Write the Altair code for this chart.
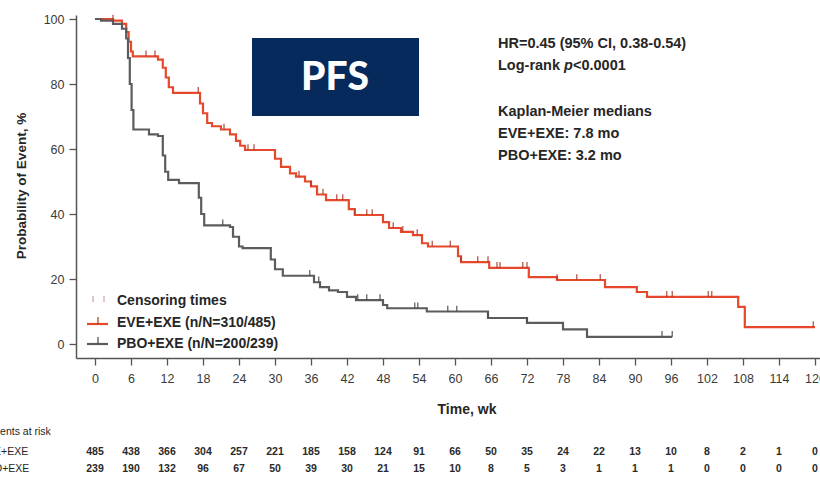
import altair as alt
import pandas as pd

FONT = "'Liberation Sans Narrow', 'Arial Narrow', 'Liberation Sans', Arial, sans-serif"
BOX_FONT = "Lato, 'Open Sans', sans-serif"

# ---------------- data ----------------
eve_t = [0, 3, 4.5, 5.2, 5.6, 6.0, 6.3, 10.5, 11.3, 11.8, 12.3, 13, 17.5, 18, 18.7, 19.5,
         21, 22.5, 23.5, 24.2, 25, 30, 31, 32.5, 33.5, 35, 36, 37, 38.5, 42.3, 43.3, 48,
         49, 51, 53, 54.5, 55.5, 60.5, 61, 65.7, 72.3, 77, 85, 90.3, 92, 107.2, 108.3, 120]
eve_s = [100, 99.5, 98.5, 96, 93, 90, 88.5, 87.5, 85, 82, 79, 77.3, 74, 71, 68, 67,
         66, 64.5, 62.5, 61, 59.7, 57, 54.5, 52.5, 51.5, 50, 48.5, 46, 44.3, 41.5, 39.7, 37.5,
         35.7, 34.5, 33.5, 31, 30, 27, 25.2, 23.4, 20.6, 19.7, 17.5, 16, 14.5, 11.4, 5.2, 5.2]

pbo_t = [0, 1, 3, 4.5, 5.2, 5.5, 5.8, 6.1, 6.4, 9, 10.5, 11.3, 11.7, 12.2, 14, 17.3, 17.7,
         18.2, 22.5, 23, 24, 24.6, 29.3, 30, 31.3, 36.5, 37.5, 39, 40.5, 42, 43.5, 48, 48.7,
         55.3, 65.5, 72, 78, 82, 96.2]
pbo_s = [100, 99.5, 98.5, 97, 94, 88, 80, 72, 66, 64.5, 64, 58, 53, 50.5, 49.5, 45, 40,
         36.5, 36, 33, 30, 29.5, 26, 23, 21, 19, 17.5, 16.5, 16, 14.5, 13.5, 12, 11,
         10, 8, 6.5, 4.5, 2.2, 2.2]

eve_cens = [3, 8.5, 10, 17.2, 21.5, 25.5, 26.5, 34, 36, 38, 40.3, 41.3, 43.3, 45.3, 46.2,
            49.7, 51.3, 53.7, 56.2, 59.2, 61, 63.8, 65.5, 67, 67.5, 71.3, 72, 77, 80.3,
            84.2, 95.3, 96.2, 102.2, 102.8, 119.7]
pbo_cens = [21.3, 35.8, 37.3, 43.8, 45.3, 47.5, 53.3, 53.8, 58.8, 60.3, 65.5, 72, 94.5, 96.2]

risk_times = list(range(0, 121, 6))
eve_risk = [485, 438, 366, 304, 257, 221, 185, 158, 124, 91, 66, 50, 35, 24, 22, 13, 10, 8, 2, 1, 0]
pbo_risk = [239, 190, 132, 96, 67, 50, 39, 30, 21, 15, 10, 8, 5, 3, 1, 1, 1, 0, 0, 0, 0]

x_ticks = list(range(0, 121, 6))
y_ticks = [0, 20, 40, 60, 80, 100]

stats_lines = ["HR=0.45 (95% CI, 0.38-0.54)", "Kaplan-Meier medians",
               "EVE+EXE: 7.8 mo", "PBO+EXE: 3.2 mo"]
legend_labels = ["Censoring times", "EVE+EXE (n/N=310/485)", "PBO+EXE (n/N=200/239)"]

# ---------------- layout constants ----------------
LEFT, TOP = 76, 15
W, H = 744, 343
RED, RED_DARK = "#e6482c", "#a83a28"
GRAY, GRAY_DARK = "#5c5c5c", "#484848"


def step_value(ts, ss, t):
    v = ss[0]
    for ti, si in zip(ts, ss):
        if ti <= t:
            v = si
    return v


eve_df = pd.DataFrame({"t": eve_t, "s": eve_s})
pbo_df = pd.DataFrame({"t": pbo_t, "s": pbo_s})
eve_c = pd.DataFrame({"t": eve_cens, "s": [step_value(eve_t, eve_s, t) for t in eve_cens]})
pbo_c = pd.DataFrame({"t": pbo_cens, "s": [step_value(pbo_t, pbo_s, t) for t in pbo_cens]})
risk_df = pd.DataFrame({"t": risk_times, "eve": eve_risk, "pbo": pbo_risk})

xscale = alt.Scale(domain=[(LEFT - 95) / 6, (LEFT + W - 95) / 6], nice=False, zero=False)
yscale = alt.Scale(domain=[(344 - (TOP + H)) / 3.25, (344 - TOP) / 3.25], nice=False, zero=False)

xaxis = alt.Axis(values=x_ticks, title=None, grid=False, tickSize=7, labelPadding=7,
                 labelFlush=False, labelOverlap=False)
yaxis = alt.Axis(values=y_ticks, title=None, grid=False, tickSize=7, labelPadding=5,
                 labelOverlap=False)

X = alt.X("t:Q", scale=xscale, axis=xaxis)
Y = alt.Y("s:Q", scale=yscale, axis=yaxis)

eve_line = alt.Chart(eve_df).mark_line(interpolate="step-after", strokeWidth=2.2, color=RED).encode(x=X, y=Y)
pbo_line = alt.Chart(pbo_df).mark_line(interpolate="step-after", strokeWidth=2.2, color=GRAY).encode(x=X, y=Y)


def censor(df, color):
    return alt.Chart(df).transform_calculate(s2="datum.s + 1.8").mark_rule(
        color=color, strokeWidth=1.1).encode(x=X, y=Y, y2="s2:Q")


eve_cm = censor(eve_c, RED_DARK)
pbo_cm = censor(pbo_c, GRAY_DARK)


def label(text, x, y, size=14, weight="bold", align="left", color="#262626", font=FONT,
          angle=0, style="normal"):
    props = dict(align=align, baseline="middle", fontSize=size, fontWeight=weight, font=font,
                 color=color, fontStyle=style)
    if angle:
        props["angle"] = angle
    return alt.Chart(pd.DataFrame({"txt": [text]})).mark_text(**props).encode(
        x=alt.value(x - LEFT), y=alt.value(y - TOP), text="txt:N")


layers = [eve_line, pbo_line, eve_cm, pbo_cm]

# PFS box
box = alt.Chart(pd.DataFrame({"k": [0]})).mark_rect(color="#062a5c").encode(
    x=alt.value(252 - LEFT), x2=alt.value(419 - LEFT), y=alt.value(38 - TOP), y2=alt.value(116 - TOP))
layers += [box, label("PFS", 335, 78, size=39, weight=900, align="center", color="white", font=BOX_FONT)]

# statistics annotation
S = 14.5
layers += [label(stats_lines[0], 498, 44, size=S)]
layers += [label("Log-rank ", 498, 66, size=S), label("p", 564, 66, size=S, style="italic"),
           label("<0.0001", 573, 66, size=S)]
layers += [label(stats_lines[1], 498, 112, size=S), label(stats_lines[2], 498, 134, size=S),
           label(stats_lines[3], 498, 156, size=S)]

# axis titles
layers += [label("Time, wk", 467, 410, size=14, align="center"),
           label("Probability of Event, %", 22, 186, size=13.5, align="center", angle=270)]


# in-plot legend
def seg(x1, x2, y1, y2, color, w):
    return alt.Chart(pd.DataFrame({"k": [0]})).mark_rule(color=color, strokeWidth=w).encode(
        x=alt.value(x1 - LEFT), x2=alt.value(x2 - LEFT), y=alt.value(y1 - TOP), y2=alt.value(y2 - TOP))


layers += [seg(93, 93, 296, 302, "#c8a0a8", 1.2), seg(104, 104, 296, 302, "#c8a0a8", 1.2),
           seg(87, 108, 324, 324, RED, 2.2), seg(98, 98, 317, 324, RED_DARK, 1.2),
           seg(87, 108, 344, 344, GRAY, 2.2), seg(98, 98, 337, 344, GRAY_DARK, 1.2)]
layers += [label(legend_labels[0], 117, 301, size=14), label(legend_labels[1], 117, 323, size=14),
           label(legend_labels[2], 117, 344, size=14)]

# number at risk table
layers += [label("Patients at risk", -18, 432, size=10.5, weight="normal"),
           label("EVE+EXE", -20, 452, size=10.5, weight="normal"),
           label("PBO+EXE", -20, 469, size=10.5, weight="normal")]
for col, ypix in (("eve", 452), ("pbo", 469)):
    layers.append(alt.Chart(risk_df).mark_text(align="center", baseline="middle", fontSize=10.5,
                                               fontWeight="bold", font=FONT, color="#2a2a2a").encode(
        x=X, y=alt.value(ypix - TOP), text=f"{col}:Q"))

chart = alt.layer(*layers).properties(
    width=W, height=H,
    padding={"left": LEFT, "top": TOP, "right": 0, "bottom": 487 - TOP - H},
    autosize=alt.AutoSizeParams(type="none"),
).configure_view(stroke=None).configure_axis(
    domainColor="#555555", domainWidth=1.5, tickColor="#555555", tickWidth=1.3,
    labelColor="#3a3a3a", labelFont=FONT, labelFontSize=12.5,
)

chart.save("out.html", embed_options={"renderer": "svg", "actions": False})
